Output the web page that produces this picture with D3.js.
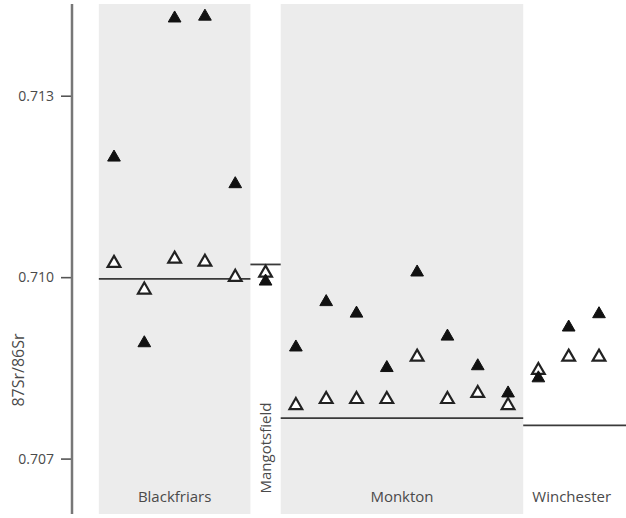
<!DOCTYPE html>
<html>
<head>
<meta charset="utf-8">
<script src="https://cdn.jsdelivr.net/npm/d3@7"></script>
<style>
  body { margin: 0; background: #fff; }
  svg { display: block; font-family: "Open Sans", sans-serif; }
  text { fill: #4a4a4a; }
</style>
</head>
<body>
<svg width="626" height="518"></svg>
<script>
// sites, in plotting order
const sites = ["Blackfriars", "Mangotsfield", "Monkton", "Winchester"];
// 87Sr/86Sr, enamel (filled) and dentine/bone (open)
const blackfriarsFilled = [0.71198, 0.70891, 0.71428, 0.71431, 0.71154];
const blackfriarsOpen = [0.71023, 0.70979, 0.71030, 0.71025, 0.71000];
const mangotsfieldFilled = [0.70993];
const mangotsfieldOpen = [0.71007];
const monktonFilled = [0.70884, 0.70959, 0.70940, 0.70850, 0.71008, 0.70902, 0.70853, 0.70808];
const monktonOpen = [0.70788, 0.70798, 0.70798, 0.70798, 0.70868, 0.70798, 0.70808, 0.70788];
const winchesterFilled = [0.70833, 0.70917, 0.70939];
const winchesterOpen = [0.70846, 0.70868, 0.70868];
// local baseline per site
const baselines = [0.70997, 0.71021, 0.70767, 0.70755];
const yTicks = [0.707, 0.710, 0.713];

const groups = [
  { name: sites[0], filled: blackfriarsFilled, open: blackfriarsOpen, base: baselines[0], shade: true },
  { name: sites[1], filled: mangotsfieldFilled, open: mangotsfieldOpen, base: baselines[1], shade: false },
  { name: sites[2], filled: monktonFilled, open: monktonOpen, base: baselines[2], shade: true },
  { name: sites[3], filled: winchesterFilled, open: winchesterOpen, base: baselines[3], shade: false }
];
// slot index of each sample
let slot = 0;
groups.forEach(g => {
  g.start = slot;
  slot += g.filled.length;
  g.end = slot - 1;
});

const svg = d3.select("svg");
const x = d3.scaleLinear().domain([0, slot - 1]).range([114, 599]);
const y = d3.scaleLinear().domain([0.70615, 0.71450]).range([510, 5]);

// shaded site panels
svg.selectAll("rect.panel")
  .data(groups.filter(g => g.shade))
  .enter().append("rect")
  .attr("class", "panel")
  .attr("x", g => x(g.start - 0.5))
  .attr("width", g => x(g.end + 0.5) - x(g.start - 0.5))
  .attr("y", 4)
  .attr("height", 510)
  .attr("fill", "#ececec");

// baselines
svg.selectAll("line.base")
  .data(groups)
  .enter().append("line")
  .attr("class", "base")
  .attr("x1", g => x(g.start - 0.5))
  .attr("x2", (g, i) => i === groups.length - 1 ? 626 : x(g.end + 0.5))
  .attr("y1", g => y(g.base))
  .attr("y2", g => y(g.base))
  .attr("stroke", "#3a3a3a")
  .attr("stroke-width", 1.8);

const tri = d3.symbol().type(d3.symbolTriangle).size(70);

groups.forEach(g => {
  const pts = g.open.map((v, i) => ({ v, i: g.start + i }));
  svg.selectAll(null)
    .data(pts)
    .enter().append("path")
    .attr("d", tri)
    .attr("transform", d => "translate(" + x(d.i) + "," + y(d.v) + ")")
    .attr("fill", "#fff")
    .attr("stroke", "#222")
    .attr("stroke-width", 2.2);

  const fpts = g.filled.map((v, i) => ({ v, i: g.start + i }));
  svg.selectAll(null)
    .data(fpts)
    .enter().append("path")
    .attr("d", tri)
    .attr("transform", d => "translate(" + x(d.i) + "," + y(d.v) + ")")
    .attr("fill", "#111")
    .attr("stroke", "#111")
    .attr("stroke-width", 1);
});

// site labels
svg.selectAll("text.site")
  .data(groups)
  .enter().append("text")
  .attr("class", "site")
  .attr("font-size", 15)
  .attr("text-anchor", "middle")
  .attr("transform", g => {
    const cx = x((g.start + g.end) / 2);
    if (g.name === "Mangotsfield") return "translate(" + (cx + 5) + ",448) rotate(-90)";
    return "translate(" + (g.name === "Winchester" ? cx + 3 : cx) + ",502)";
  })
  .text(g => g.name);

// y axis
const axis = svg.append("g")
  .attr("transform", "translate(72,0)")
  .call(d3.axisLeft(y).tickValues(yTicks).tickFormat(d3.format(".3f")).tickSize(11).tickPadding(7));
axis.select(".domain").remove();
axis.append("line")
  .attr("y1", 4).attr("y2", 514)
  .attr("stroke", "#777").attr("stroke-width", 2.5);
axis.selectAll(".tick line").attr("stroke", "#555").attr("stroke-width", 1.6);
axis.selectAll(".tick text")
  .attr("fill", "#4a4a4a")
  .attr("font-size", 14)
  .attr("font-family", "'Open Sans', sans-serif");

svg.append("text")
  .attr("transform", "translate(24,370) rotate(-90)")
  .attr("text-anchor", "middle")
  .attr("font-size", 16)
  .text("87Sr/86Sr");
</script>
</body>
</html>
